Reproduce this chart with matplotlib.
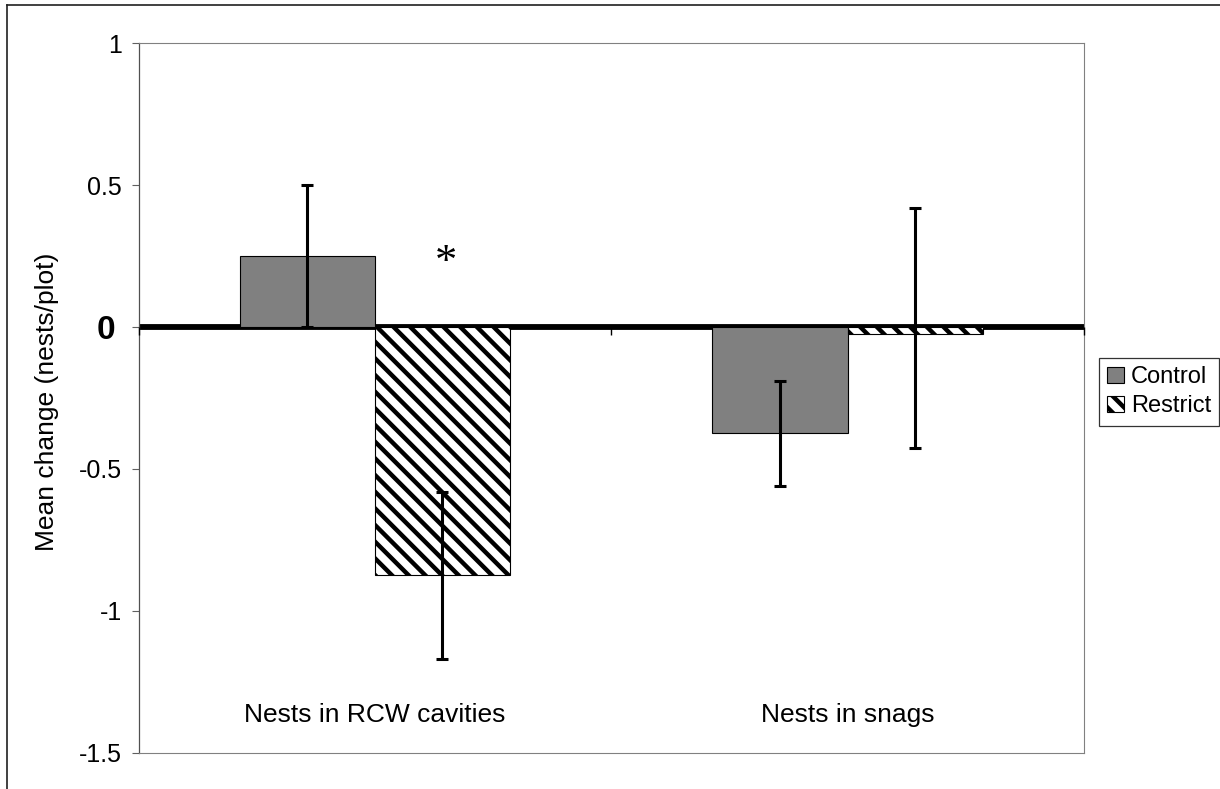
import matplotlib
matplotlib.use("Agg")
import matplotlib.pyplot as plt
import matplotlib.transforms as mtransforms
from matplotlib.lines import Line2D
from matplotlib import markers
import numpy as np

# data
categories = ["Nests in RCW cavities", "Nests in snags"]
series = ["Control", "Restrict"]
control_mean = [0.25, -0.375]
restrict_mean = [-0.875, -0.025]
control_err = [0.25, 0.185]
restrict_err_lo = [0.295, 0.40]
restrict_err_hi = [0.295, 0.445]
yticks = [-1.5, -1, -0.5, 0, 0.5, 1]
ytick_labels = ["-1.5", "-1", "-0.5", "0", "0.5", "1"]

plt.rcParams["font.family"] = ["Liberation Sans", "DejaVu Sans"]
plt.rcParams["hatch.linewidth"] = 3.2
plt.rcParams["hatch.color"] = "black"

W, H = 1220, 789
fig = plt.figure(figsize=(W / 100, H / 100), dpi=100)
ax = fig.add_axes([138.5 / W, 1 - 752.7 / H, (1084 - 138.5) / W, (752.7 - 43.3) / H])

x = np.arange(len(categories))
w = 0.286

ax.axhline(0, color="black", lw=4.2, zorder=2)
ax.bar(x - w / 2, control_mean, w, color="#808080", edgecolor="black",
       lw=0.8, label=series[0], zorder=3)
ax.bar(x + w / 2, restrict_mean, w, color="white", edgecolor="black",
       hatch="\\\\", lw=0.8, label=series[1], zorder=3)

ax.errorbar(x - w / 2, control_mean, yerr=control_err, fmt="none",
            ecolor="black", elinewidth=2.2, capsize=4, capthick=2.2, zorder=4)
ax.errorbar(x + w / 2, restrict_mean, yerr=[restrict_err_lo, restrict_err_hi],
            fmt="none", ecolor="black", elinewidth=2.2, capsize=4, capthick=2.2, zorder=4)

# category boundary ticks on the zero line
ax.plot([-0.5, 0.5, 1.5], [0, 0, 0], ls="none", marker=markers.TICKDOWN,
        ms=6, mew=1, color="black", zorder=5, clip_on=False)

ax.set_xlim(-0.5, 1.5)
ax.set_ylim(-1.5, 1)
ax.set_xticks([])
ax.set_yticks(yticks)
ax.set_yticklabels(ytick_labels)
ax.tick_params(axis="y", length=5, width=0.8, color="#606060", pad=7, labelsize=18)
for lab in ax.get_yticklabels():
    if lab.get_text() == "0":
        lab.set_fontweight("bold")
        lab.set_fontsize(24)
        lab.set_transform(lab.get_transform() +
                          mtransforms.ScaledTranslation(-0.07, 0, fig.dpi_scale_trans))

for s in ["top", "right", "bottom"]:
    ax.spines[s].set_color("#808080")
    ax.spines[s].set_linewidth(0.8)
ax.spines["left"].set_color("#505050")
ax.spines["left"].set_linewidth(0.9)

trans = mtransforms.blended_transform_factory(ax.transData, ax.transAxes)
for i, c in enumerate(categories):
    ax.text(i, 0.0433, c, transform=trans, ha="center", va="baseline", fontsize=19)

# significance marker
ax.text(0.151, 0.225, "*", ha="center", va="center", fontsize=32,
        family=["Liberation Serif", "DejaVu Serif"])

fig.text(47 / W, 1 - 402 / H, "Mean change (nests/plot)", rotation=90,
         ha="center", va="center", fontsize=19)

leg = fig.legend(loc="upper left", bbox_to_anchor=(1099 / W, 1 - 358 / H),
                 frameon=True, fancybox=False, fontsize=17, handlelength=0.7,
                 handleheight=0.7, handletextpad=0.3, borderpad=0.35,
                 labelspacing=0.3, borderaxespad=0)
leg.get_frame().set_edgecolor("black")
leg.get_frame().set_linewidth(0.9)

# outer chart border (left and top only are visible)
fig.add_artist(Line2D([7 / W, 7 / W], [0, 1 - 5 / H], color="#202020", lw=1.2))
fig.add_artist(Line2D([7 / W, 1], [1 - 5 / H, 1 - 5 / H], color="#202020", lw=1.2))

fig.savefig("out.png", dpi=100)
